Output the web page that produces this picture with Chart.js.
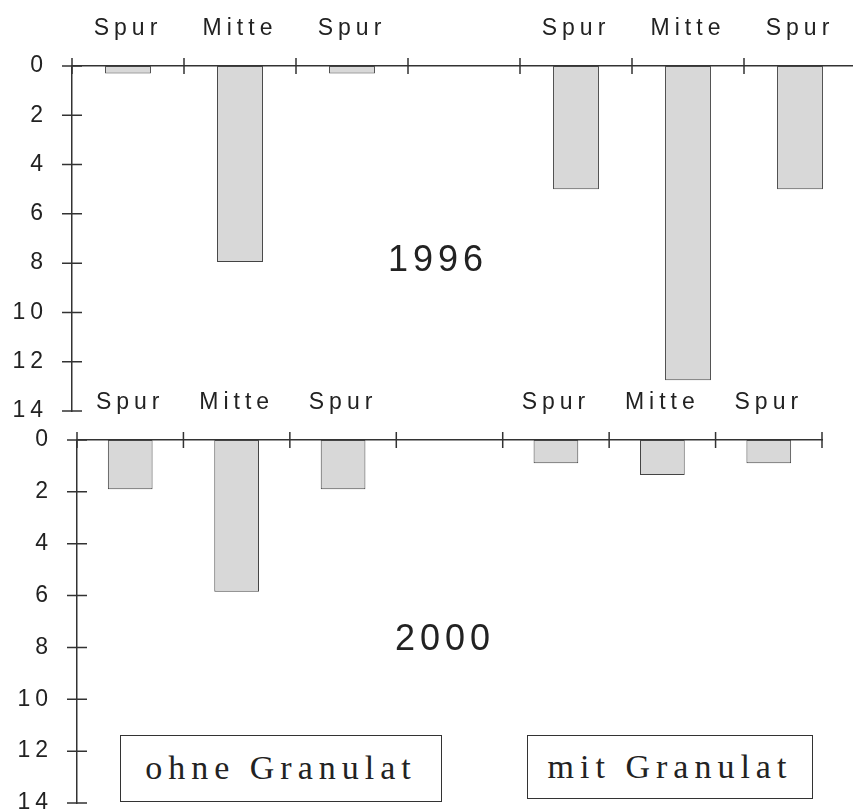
<!DOCTYPE html>
<html>
<head>
<meta charset="utf-8">
<script src="https://cdn.jsdelivr.net/npm/chart.js@4/dist/chart.umd.min.js"></script>
<style>
  html, body { margin: 0; padding: 0; width: 853px; height: 810px; overflow: hidden; background: #fff; }
  .panel { position: absolute; left: 0; }
  .year { position: absolute; font-family: "Liberation Sans", Arial, sans-serif; font-size: 36px; letter-spacing: 5px; color: #222; }
  .box { position: absolute; border: 1.5px solid #333; box-sizing: border-box; font-family: "Liberation Serif", "Times New Roman", serif;
         font-size: 34px; letter-spacing: 6px; color: #222; text-align: center; background: #fff; }
</style>
</head>
<body>
<div class="panel" style="top:0"><canvas id="chart1996" width="880" height="430"></canvas></div>
<div class="panel" style="top:380px"><canvas id="chart2000" width="853" height="430"></canvas></div>
<div class="year" style="left:388px;top:238px">1996</div>
<div class="year" style="left:395px;top:617px">2000</div>
<div class="box" style="left:120px;top:735px;width:322px;height:67px;line-height:64px">ohne Granulat</div>
<div class="box" style="left:527px;top:735px;width:286px;height:64px;line-height:61px">mit Granulat</div>
<script>
const categories = ['Spur', 'Mitte', 'Spur', '', 'Spur', 'Mitte', 'Spur'];
const values1996 = [0.3, 7.95, 0.3, null, 5.0, 12.75, 5.0];
const values2000 = [1.9, 5.85, 1.9, null, 0.9, 1.35, 0.9];
const yTickValues = [0, 2, 4, 6, 8, 10, 12, 14];

// text spacing like the scanned original
const spacing = {
  id: 'spacing',
  beforeLayout(chart) { chart.ctx.letterSpacing = '5px'; },
  beforeDraw(chart) { chart.ctx.letterSpacing = '5px'; }
};

// tick marks crossing both axes
const crossTicks = {
  id: 'crossTicks',
  afterDraw(chart) {
    const ctx = chart.ctx;
    const x = chart.scales.x, y = chart.scales.y;
    ctx.save();
    ctx.strokeStyle = '#333';
    ctx.lineWidth = 1.5;
    ctx.beginPath();
    const n = categories.length;
    for (let i = 0; i <= n; i++) {
      const px = x.left + i * x.width / n;
      ctx.moveTo(px, y.top - 8);
      ctx.lineTo(px, y.top + 8);
    }
    y.ticks.forEach((t, i) => {
      const py = y.getPixelForTick(i);
      ctx.moveTo(y.right - 10, py);
      ctx.lineTo(y.right + 10, py);
    });
    ctx.stroke();
    ctx.restore();
  }
};

function makeChart(id, values, opts) {
  const font = { family: '"Liberation Sans", Arial, sans-serif', size: 23 };
  return new Chart(document.getElementById(id), {
    type: 'bar',
    data: {
      labels: categories,
      datasets: [{
        data: values,
        backgroundColor: '#d8d8d8',
        borderColor: '#444',
        borderWidth: 1,
        borderSkipped: false,
        barPercentage: opts.barPct,
        categoryPercentage: 1
      }]
    },
    options: {
      responsive: false,
      animation: false,
      layout: { padding: { left: 0, right: opts.padRight, top: 0, bottom: opts.padBottom } },
      plugins: { legend: { display: false }, tooltip: { enabled: false } },
      scales: {
        x: {
          position: 'top',
          offset: true,
          grid: { display: false, drawTicks: false },
          border: { display: true, color: '#333', width: 1.5 },
          ticks: { font: font, color: '#222', padding: 24, maxRotation: 0, autoSkip: false },
          afterFit(s) { s.height = opts.top; s.paddingLeft = 0; s.paddingRight = 0; }
        },
        y: {
          reverse: true,
          min: 0,
          max: 14,
          grid: { display: false, drawTicks: false },
          border: { display: true, color: '#333', width: 1.5 },
          afterBuildTicks(s) { s.ticks = yTickValues.map(v => ({ value: v })); },
          ticks: { font: font, color: '#222', padding: opts.labelPad },
          afterFit(s) { s.width = opts.left; s.paddingTop = 0; s.paddingBottom = 0; }
        }
      }
    },
    plugins: [spacing, crossTicks]
  });
}

makeChart('chart1996', values1996, { top: 66, left: 72, padRight: 24, padBottom: 19, barPct: 0.41, labelPad: 24 });
makeChart('chart2000', values2000, { top: 60, left: 77, padRight: 31, padBottom: 7, barPct: 0.42, labelPad: 24 });
</script>
</body>
</html>
